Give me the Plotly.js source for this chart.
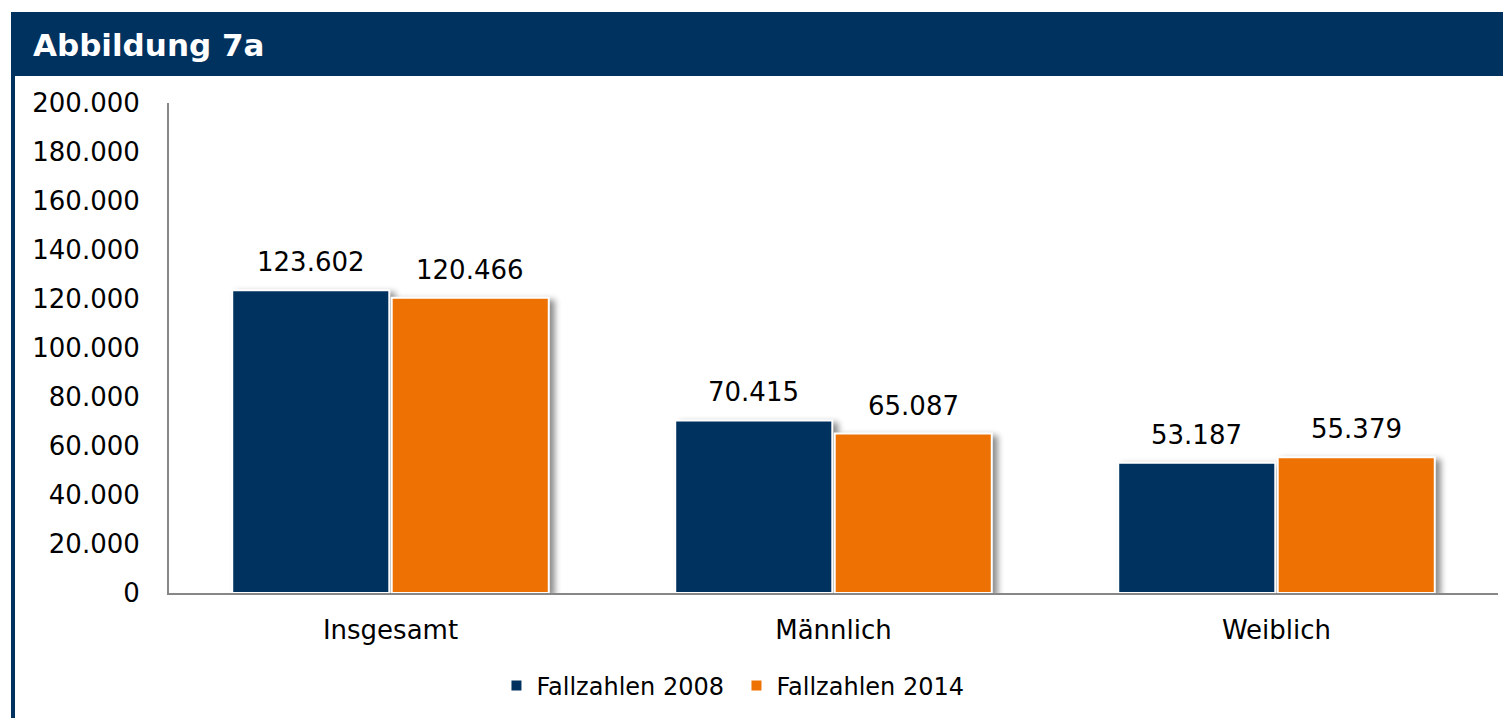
<!DOCTYPE html>
<html>
<head>
<meta charset="utf-8">
<script src="https://cdn.plot.ly/plotly-3.0.1.min.js"></script>
<style>
html,body{margin:0;padding:0;background:#fff;}
#chart{width:1503px;height:718px;}
.trace.bars .point path{filter:drop-shadow(5px 3px 3px rgba(0,0,0,0.45));}
</style>
</head>
<body>
<div id="chart"></div>
<script>
const categories = ["Insgesamt", "Männlich", "Weiblich"];
const values2008 = [123602, 70415, 53187];
const values2014 = [120466, 65087, 55379];
const seriesNames = ["Fallzahlen 2008", "Fallzahlen 2014"];
const titleText = "Abbildung 7a";

const navy = "#00325F";
const orange = "#EE7203";
const fontFamily = "Verdana, 'DejaVu Sans', sans-serif";

const traces = [
  {type:"bar", name:seriesNames[0], x:categories, y:values2008,
   marker:{color:navy, line:{color:"#ffffff", width:2}}, hoverinfo:"none"},
  {type:"bar", name:seriesNames[1], x:categories, y:values2014,
   marker:{color:orange, line:{color:"#ffffff", width:2}}, hoverinfo:"none"}
];

const fmt = v => v.toString().replace(/\B(?=(\d{3})+(?!\d))/g, ".");
const annotations = [];
[values2008, values2014].forEach((vals, s) => {
  vals.forEach((v, i) => {
    annotations.push({
      x: i + (s === 0 ? -0.18 : 0.18), y: v, xref:"x", yref:"y",
      text: fmt(v), showarrow:false, yanchor:"bottom", xanchor:"center",
      yshift: 11, font:{family:fontFamily, size:26, color:"#000"}
    });
  });
});

const L = 169, R = 5, T = 103, B = 125, W = 1503, H = 718;
const pw = W - L - R, ph = H - T - B;
const px = x => (x - L) / pw;
const py = y => (H - B - y) / ph;

const layout = {
  width: W, height: H,
  margin:{l:L, r:R, t:T, b:B, pad:0},
  paper_bgcolor:"#fff", plot_bgcolor:"#fff",
  separators: ",.",
  font:{family:fontFamily, size:26, color:"#000"},
  title:{text:"<b>" + titleText + "</b>", xref:"container", yref:"container",
         x: 33/W, y: 1 - 45/H, xanchor:"left", yanchor:"middle",
         font:{family:fontFamily, size:31, color:"#ffffff"}},
  barmode:"group", bargap:0.28, bargroupgap:0.015,
  xaxis:{type:"category", showline:true, linecolor:"#878787", linewidth:2,
         ticks:"", showgrid:false, zeroline:false,
         tickfont:{family:fontFamily, size:26, color:"#000"}, ticklabelstandoff:13},
  yaxis:{range:[0,200000], dtick:20000, tickformat:",d", showline:true,
         linecolor:"#878787", linewidth:2, ticks:"", showgrid:false, zeroline:false,
         tickfont:{family:fontFamily, size:26, color:"#000"}, ticklabelstandoff:22},
  showlegend:true,
  legend:{orientation:"h", xref:"container", yref:"container", x:0.49, y:1-686/H,
          xanchor:"center", yanchor:"middle", entrywidth:195,
          font:{family:fontFamily, size:24, color:"#000"}, itemwidth:30},
  annotations: annotations,
  shapes:[
    {type:"rect", xref:"paper", yref:"paper", x0:px(11), x1:px(1510), y0:py(76), y1:py(12),
     fillcolor:navy, line:{width:0}, layer:"below"},
    {type:"rect", xref:"paper", yref:"paper", x0:px(11), x1:px(15), y0:py(730), y1:py(12),
     fillcolor:navy, line:{width:0}, layer:"below"}
  ]
};

Plotly.newPlot("chart", traces, layout, {staticPlot:true, displayModeBar:false});
</script>
</body>
</html>
